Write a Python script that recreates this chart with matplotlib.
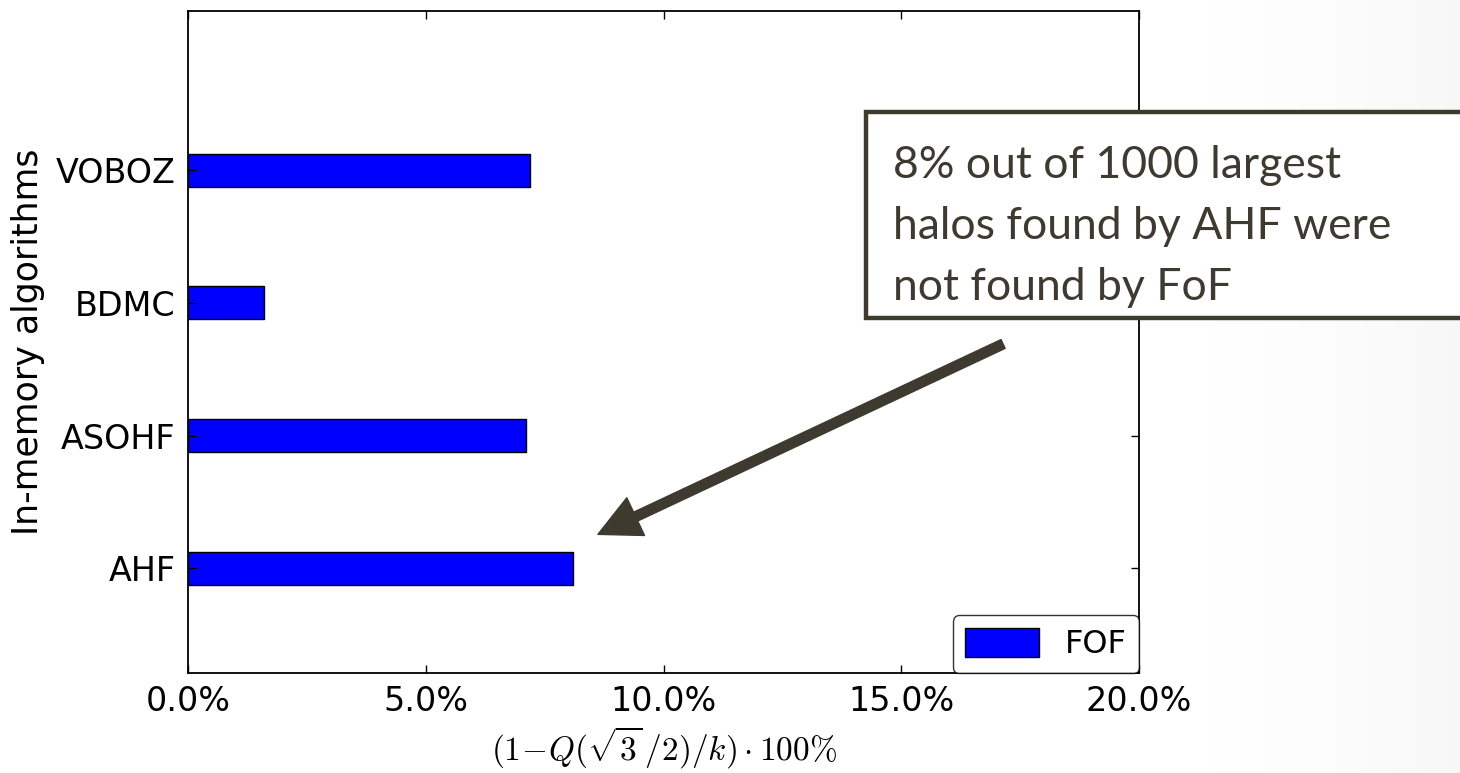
import numpy as np
import matplotlib
matplotlib.use("Agg")
import matplotlib.pyplot as plt
from matplotlib.patches import Rectangle

# data, bottom to top
algos = ["AHF", "ASOHF", "BDMC", "VOBOZ"]
fof_missed = [8.1, 7.1, 1.6, 7.2]   # percent
xticks = [0, 5, 10, 15, 20]

plt.rcParams['mathtext.fontset'] = 'cm'

fig = plt.figure(figsize=(14.6, 7.73), dpi=100)

# slide background, light grey fading in on the right
bg = fig.add_axes([0, 0, 1, 1], zorder=-10)
grad = np.linspace(0, 1, 400)
grad = np.clip((grad - 0.8) / 0.2, 0, 1) ** 1.5
bg.imshow(grad[np.newaxis, :], aspect='auto', cmap='Greys', vmin=0, vmax=16,
          extent=[0, 1, 0, 1])
bg.set_axis_off()

ax = fig.add_axes([0.1288, 0.1294, 0.6514, 0.8564])
ax.set_facecolor('white')
ypos = np.arange(len(algos))
ax.barh(ypos, fof_missed, height=0.25, color='#0000ff', edgecolor='black',
        linewidth=1, label='FOF')

ax.set_xlim(0, 20)
ax.set_ylim(-0.79, 4.2)
ax.set_xticks(xticks)
ax.set_xticklabels(["{:.1f}%".format(v) for v in xticks])
ax.set_yticks(ypos)
ax.set_yticklabels(algos)
ax.tick_params(direction='in', top=True, right=True, length=6, width=1,
               labelsize=24, pad=9, colors='black')
for s in ax.spines.values():
    s.set_linewidth(1.3)

ax.set_ylabel("In-memory algorithms", fontsize=25, labelpad=8)
ax.set_xlabel(r"$(1\!-\!Q(\sqrt{3}\,/2)/k)\cdot 100\%$", fontsize=24, labelpad=4)

leg = ax.legend(loc='lower right', borderaxespad=0, fontsize=23,
                handlelength=2.3, handleheight=1.0, fancybox=True)
leg.get_frame().set_edgecolor('black')
leg.get_frame().set_linewidth(1)

# callout box + arrow
dark = '#3e3a2f'
box = Rectangle((0.593, 0.5886), 0.5, 0.2666, transform=fig.transFigure,
                facecolor='white', edgecolor=dark, linewidth=3.2, clip_on=False,
                zorder=5)
fig.patches.append(box)
fig.text(0.6116, 0.812, "8% out of 1000 largest\nhalos found by AHF were\nnot found by FoF",
         fontsize=32, family='Lato', color=dark, va='top', ha='left',
         linespacing=1.6, zorder=6)

ax.annotate("", xy=(8.62, 0.255), xytext=(17.14, 1.69),
            arrowprops=dict(width=7, headwidth=30, headlength=30, shrink=0,
                            color=dark),
            annotation_clip=False)

fig.savefig("out.png", dpi=100)
